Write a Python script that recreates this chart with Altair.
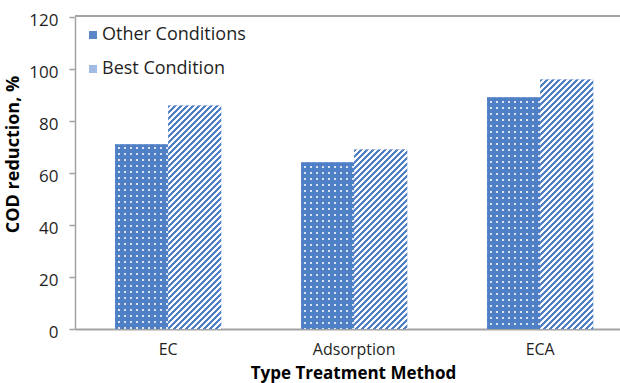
import altair as alt
import pandas as pd

# COD reduction (%) per treatment method
categories = ["EC", "Adsorption", "ECA"]
other_conditions = [71, 64, 89]
best_condition = [86, 69, 96]
series_names = ["Other Conditions", "Best Condition"]

rows = []
for c, o, b in zip(categories, other_conditions, best_condition):
    rows.append({"method": c, "series": series_names[0], "value": o})
    rows.append({"method": c, "series": series_names[1], "value": b})
df = pd.DataFrame(rows)

# plot geometry (pixels) used to size the fill patterns
W, H = 545, 312
Y_MAX = 120
PAD_INNER, PAD_OUTER, ALIGN = 0.43, 0.18, 0.6
step = W / (len(categories) - PAD_INNER + 2 * PAD_OUTER)
bar_w = step * (1 - PAD_INNER) / 2

BLUE = "#4f80c6"
DOT = "#d9e3f3"
WHITE = "#ffffff"
CLEAR = "rgba(79,128,198,0)"


def stripes(length, period, on, c_on, c_off, start=0.0):
    """Hard-edged alternating stops along a gradient of `length` pixels."""
    stops = []
    if start > 0:
        stops += [{"offset": 0, "color": c_off},
                  {"offset": start / length, "color": c_off}]
    pos = start
    while pos < length:
        a = pos / length
        b = min(pos + on, length) / length
        c = min(pos + period, length) / length
        stops += [
            {"offset": a, "color": c_on},
            {"offset": b, "color": c_on},
            {"offset": b, "color": c_off},
            {"offset": c, "color": c_off},
        ]
        pos += period
    return stops


def hatch_fill(h, w=bar_w, period=6.0):
    # diagonal stripes running lower-left to upper-right at 45 degrees
    k = w * w + h * h
    return {
        "gradient": "linear",
        "x1": 0, "y1": 0,
        "x2": (w + h) * w / k, "y2": (w + h) * h / k,
        "stops": stripes(w + h, period, 3.0, BLUE, WHITE),
    }


def dot_rows(h, period=6.0):
    return {
        "gradient": "linear", "x1": 0, "y1": 0, "x2": 0, "y2": 1,
        "stops": stripes(h, period, 2.0, DOT, BLUE, start=3.0),
    }


def dot_cols(w=bar_w, period=6.0):
    return {
        "gradient": "linear", "x1": 0, "y1": 0, "x2": 1, "y2": 0,
        "stops": stripes(w, period, 2.0, CLEAR, BLUE, start=3.0),
    }


x_enc = alt.X(
    "method:N",
    sort=categories,
    scale=alt.Scale(domain=categories, paddingInner=PAD_INNER,
                    paddingOuter=PAD_OUTER, align=ALIGN),
    axis=alt.Axis(
        title="Type Treatment Method", labelAngle=0, ticks=False, tickSize=0,
        labelPadding=12, labelBaseline="top", labelFontSize=16,
        titleX=278, titleY=44, titleAnchor="start", titleAlign="center",
        titleBaseline="middle", titleFontSize=17,
        domainColor="#a3a3a3", domainWidth=2,
    ),
)
xo_enc = alt.XOffset("series:N", sort=series_names,
                     scale=alt.Scale(domain=series_names, paddingInner=0, paddingOuter=0))
y_enc = alt.Y(
    "value:Q",
    scale=alt.Scale(domain=[0, Y_MAX], nice=False),
    axis=alt.Axis(
        title="COD reduction, %", values=list(range(0, 121, 20)), grid=False,
        labelFontSize=17, labelPadding=11, labelOffset=3,
        tickSize=6, tickColor="#a3a3a3", tickWidth=1.5,
        domainColor="#a3a3a3", domainWidth=1.5,
        titleAngle=270, titleX=-62, titleY=137, titleAlign="center",
        titleBaseline="middle", titleFontSize=18,
    ),
)

base = alt.Chart(df).mark_bar().encode(
    x=x_enc, xOffset=xo_enc, y=y_enc,
    color=alt.Color(
        "series:N", sort=series_names,
        scale=alt.Scale(domain=series_names, range=["#5a87c8", "#9fbae3"]),
        legend=alt.Legend(
            title=None, orient="none", legendX=9, legendY=9,
            symbolType="square", symbolSize=64, symbolStrokeWidth=0,
            labelFontSize=18, labelOffset=0, rowPadding=16, padding=0,
        ),
    ),
)

layers = [base]
for c, o, b in zip(categories, other_conditions, best_condition):
    sel_o = (alt.datum.method == c) & (alt.datum.series == series_names[0])
    sel_b = (alt.datum.method == c) & (alt.datum.series == series_names[1])
    h_o = o / Y_MAX * H
    h_b = b / Y_MAX * H
    for fill in (dot_rows(h_o), dot_cols()):
        layers.append(
            alt.Chart(df).transform_filter(sel_o).mark_bar(fill=fill)
            .encode(x=x_enc, xOffset=xo_enc, y=y_enc)
        )
    layers.append(
        alt.Chart(df).transform_filter(sel_b).mark_bar(fill=hatch_fill(h_b))
        .encode(x=x_enc, xOffset=xo_enc, y=y_enc)
    )

# top edge of the plot frame
frame_top = alt.Chart(df).mark_rule(color="#a3a3a3", strokeWidth=1.5).encode(
    x=alt.value(0), x2=alt.value(W), y=alt.value(-1)
)
layers.append(frame_top)

chart = alt.layer(*layers).properties(
    width=W, height=H,
    autosize=alt.AutoSizeParams(type="none"),
    padding={"left": 75, "top": 17, "right": 0, "bottom": 54},
).configure(
    font="Open Sans",
).configure_axis(
    labelColor="#1f1f1f", titleColor="#000000", labelFont="Open Sans",
    titleFont="Open Sans", titleFontWeight="bold",
).configure_legend(
    labelColor="#1f1f1f", labelFont="Open Sans",
).configure_view(stroke=None)

chart.save("out.html", embed_options={"renderer": "svg", "actions": False})
